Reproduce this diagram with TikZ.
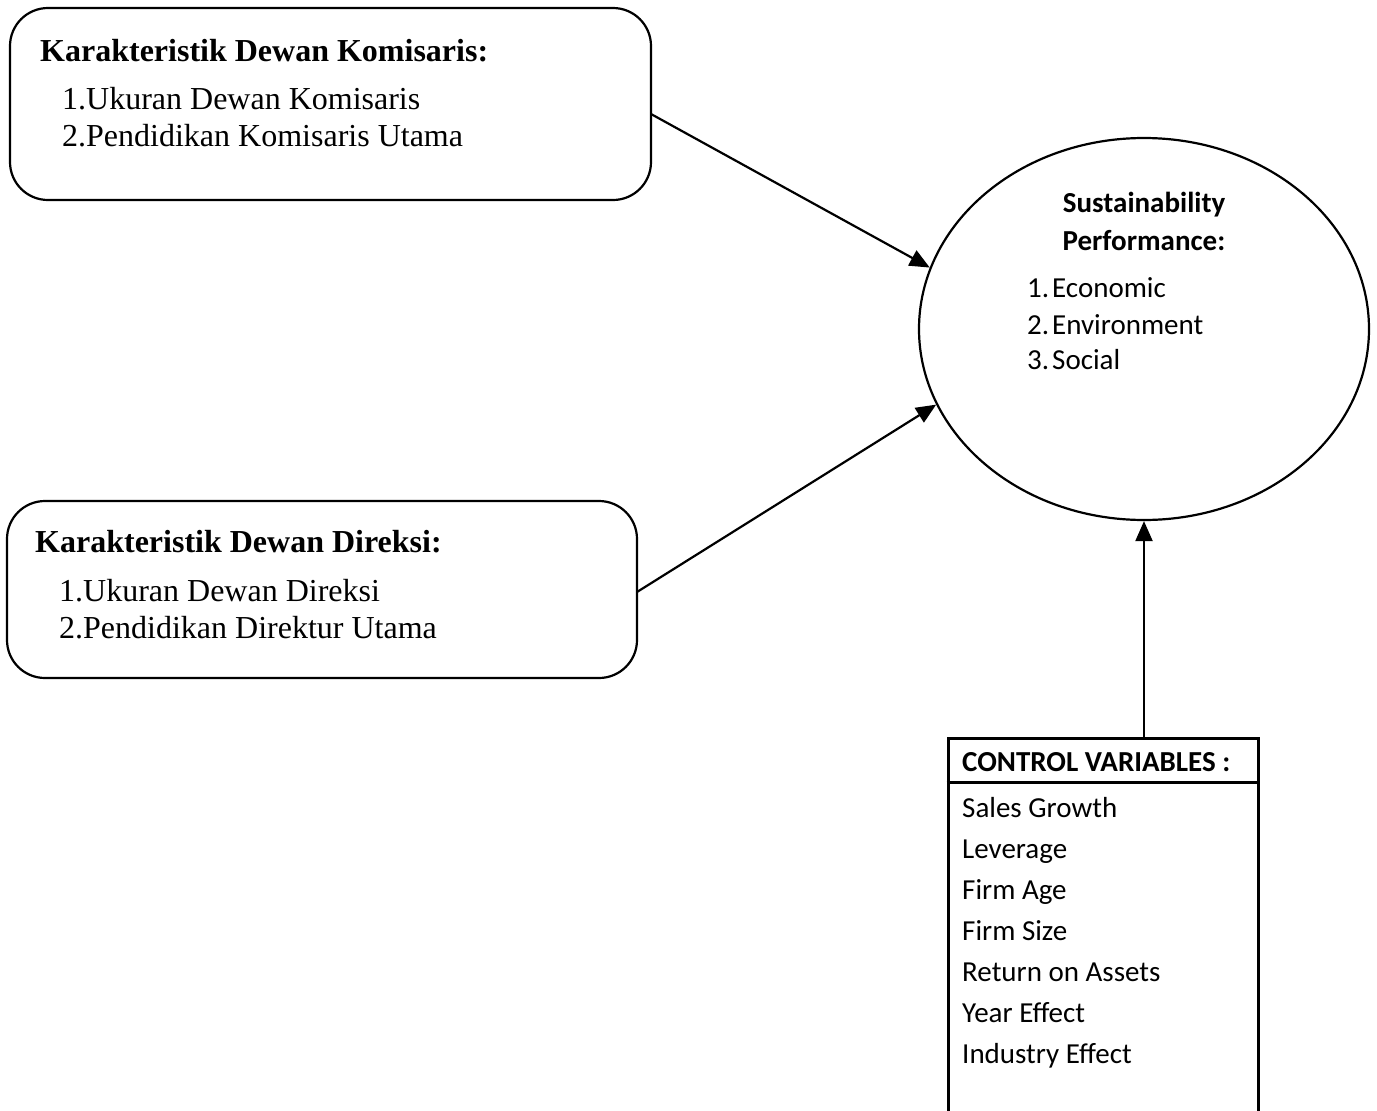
\documentclass[tikz,border=0pt]{standalone}
\usepackage{fontspec}
\setmainfont{Liberation Serif}
\newfontfamily\calib{Carlito}
\usetikzlibrary{arrows.meta,shapes.geometric}
\begin{document}
\begin{tikzpicture}[x=1pt,y=-1pt,
  rbox/.style={draw,line width=2.2pt,rounded corners=38pt,inner sep=0pt},
  txt/.style={anchor=base west,inner sep=0pt},
  ttl/.style={txt,font=\fontsize{32}{36}\selectfont\bfseries},
  itm/.style={txt,font=\fontsize{32}{36}\selectfont},
  ctxt/.style={txt,font=\calib\fontsize{29}{34}\selectfont},
  arr/.style={line width=2.2pt,-{Triangle[length=20pt,width=17pt]}}]
\useasboundingbox (0,0) rectangle (1377,1111);
% box 1
\node[rbox,minimum width=641pt,minimum height=192pt] (b1) at (330.5,104) {};
\node[ttl] (b1t) at (40,61) {Karakteristik Dewan Komisaris:};
\node[itm] (b1a) at (62,109) {1.Ukuran Dewan Komisaris};
\node[itm] (b1b) at (62,146) {2.Pendidikan Komisaris Utama};
% box 2
\node[rbox,minimum width=630pt,minimum height=177pt] (b2) at (322,589.5) {};
\node[ttl] (b2t) at (35,552) {Karakteristik Dewan Direksi:};
\node[itm] (b2a) at (59,601) {1.Ukuran Dewan Direksi};
\node[itm] (b2b) at (59,638) {2.Pendidikan Direktur Utama};
% ellipse
\node[ellipse,draw,line width=2.2pt,minimum width=450pt,minimum height=382pt,inner sep=0pt] (ell) at (1144,329) {};
\node[anchor=base,inner sep=0pt,font=\calib\fontsize{29}{34}\selectfont\bfseries] (s1) at (1144,212) {Sustainability};
\node[anchor=base,inner sep=0pt,font=\calib\fontsize{29}{34}\selectfont\bfseries] (s2) at (1144,250) {Performance:};
\node[ctxt] (n1) at (1027,297) {1.};
\node[ctxt] (e1) at (1052,297) {Economic};
\node[ctxt] (n2) at (1027,334) {2.};
\node[ctxt] (e2) at (1052,334) {Environment};
\node[ctxt] (n3) at (1027,369) {3.};
\node[ctxt] (e3) at (1052,369) {Social};
% control box
\node[draw,line width=3pt,minimum width=310pt,minimum height=390pt,inner sep=0pt,anchor=north] (ctrl) at (1103,737) {};
\coordinate (hl) at (0,782);
\draw[line width=3pt] (ctrl.west |- hl) -- (ctrl.east |- hl);
\node[ctxt,font=\calib\fontsize{29}{34}\selectfont\bfseries] (ch) at (962,771) {CONTROL VARIABLES :};
\node[ctxt] (c1) at (962,817) {Sales Growth};
\node[ctxt] (c2) at (962,858) {Leverage};
\node[ctxt] (c3) at (962,899) {Firm Age};
\node[ctxt] (c4) at (962,940) {Firm Size};
\node[ctxt] (c5) at (962,981) {Return on Assets};
\node[ctxt] (c6) at (962,1022) {Year Effect};
\node[ctxt] (c7) at (962,1063) {Industry Effect};
% arrows
\coordinate (a1s) at (651,114);
\coordinate (a2s) at (637,592);
\draw[arr] (a1s) -- (ell.164);
\draw[arr] (a2s) -- (ell.200);
\draw[arr] (ell.south |- ctrl.north) -- (ell.south);
\end{tikzpicture}
\end{document}
